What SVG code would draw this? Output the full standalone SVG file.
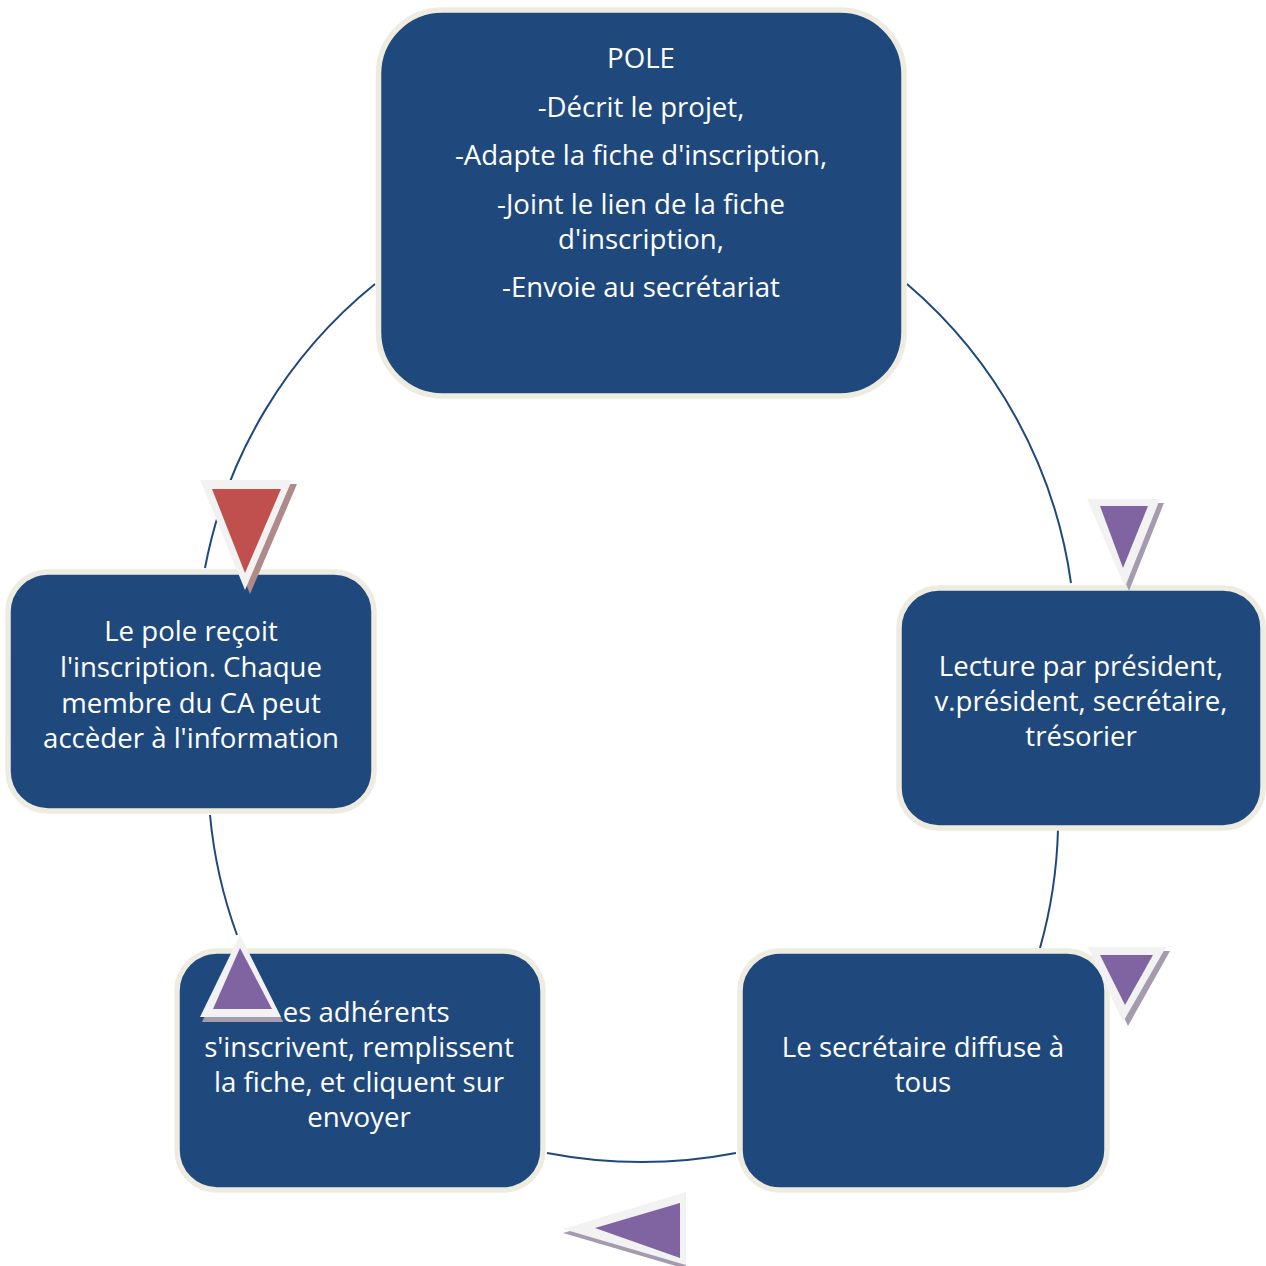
<svg xmlns="http://www.w3.org/2000/svg" width="1266" height="1266" viewBox="0 0 1266 1266">
<style>
.node{fill:#1F497D;stroke:#EEEBE0;stroke-width:5.5}
.conn{fill:none;stroke:#1F497D;stroke-width:2}
.t{font-family:"Open Sans","Liberation Sans",sans-serif;font-size:27.6px;fill:#FFFFFF;text-anchor:middle}
.outline{fill:#F2F2F2}
.purple{fill:#8064A2}
.red{fill:#C0504D}
.shp{fill:#A49CAE}
.shr{fill:#B08A8A}
</style>
<rect width="1266" height="1266" fill="#FFFFFF"/>
<g id="connectors">
<path class="conn" d="M907,284 A480,480 0 0 1 1071,583"/>
<path class="conn" d="M1058,829 A480,480 0 0 1 1040,948"/>
<path class="conn" d="M736,1153 A500,500 0 0 1 547,1153"/>
<path class="conn" d="M237,935 A480,480 0 0 1 210,815"/>
<path class="conn" d="M205,568 A480,480 0 0 1 375,284"/>
</g>
<g id="node-pole">
<rect class="node" x="378.5" y="10" width="525.5" height="386" rx="64" ry="64"/>
<text class="t" x="641" y="68">POLE</text>
<text class="t" x="641" y="117">-Décrit le projet,</text>
<text class="t" x="641" y="165">-Adapte la fiche d'inscription,</text>
<text class="t" x="641" y="214">-Joint le lien de la fiche</text>
<text class="t" x="641" y="249">d'inscription,</text>
<text class="t" x="641" y="297">-Envoie au secrétariat</text>
</g>
<g id="node-lecture">
<rect class="node" x="899" y="588" width="364" height="240" rx="40" ry="40"/>
<text class="t" x="1081" y="676">Lecture par président,</text>
<text class="t" x="1081" y="711">v.président, secrétaire,</text>
<text class="t" x="1081" y="746">trésorier</text>
</g>
<g id="node-secretaire">
<rect class="node" x="740" y="951" width="367" height="239" rx="40" ry="40"/>
<text class="t" x="923" y="1057">Le secrétaire diffuse à</text>
<text class="t" x="923" y="1092">tous</text>
</g>
<g id="node-adherents">
<rect class="node" x="177" y="951" width="366" height="239" rx="40" ry="40"/>
<text class="t" x="359" y="1022">Les adhérents</text>
<text class="t" x="359" y="1057">s'inscrivent, remplissent</text>
<text class="t" x="359" y="1092">la fiche, et cliquent sur</text>
<text class="t" x="359" y="1127">envoyer</text>
</g>
<g id="node-recoit">
<rect class="node" x="8" y="572" width="366" height="239" rx="40" ry="40"/>
<text class="t" x="191" y="641">Le pole reçoit</text>
<text class="t" x="191" y="677">l'inscription. Chaque</text>
<text class="t" x="191" y="713">membre du CA peut</text>
<text class="t" x="191" y="748">accèder à l'information</text>
</g>
<g id="arrows">
<polygon class="shr" points="206,484 297,484 250,594"/>
<polygon class="outline" points="200,480 292,480 245,590"/>
<polygon class="red" points="212,489 281,489 245,573"/>

<polygon class="shp" points="1092,503 1164,503 1129,591"/>
<polygon class="outline" points="1087,499 1160,499 1125,587"/>
<polygon class="purple" points="1100,506 1148,506 1123,568"/>

<polygon class="shp" points="1093,951 1170,951 1128,1026"/>
<polygon class="outline" points="1088,947 1166,947 1123,1022"/>
<polygon class="purple" points="1100,955 1153,955 1125,1005"/>

<polygon class="shp" points="242,940 202,1022 283,1022"/>
<polygon class="outline" points="240,935 200,1017 281,1017"/>
<polygon class="purple" points="240,948 213,1009 272,1009"/>

<polygon class="shp" points="563,1233 686,1197 686,1269"/>
<polygon class="outline" points="563,1229 686,1192 686,1265"/>
<polygon class="purple" points="595,1228 680,1203 680,1258"/>
</g>
</svg>
